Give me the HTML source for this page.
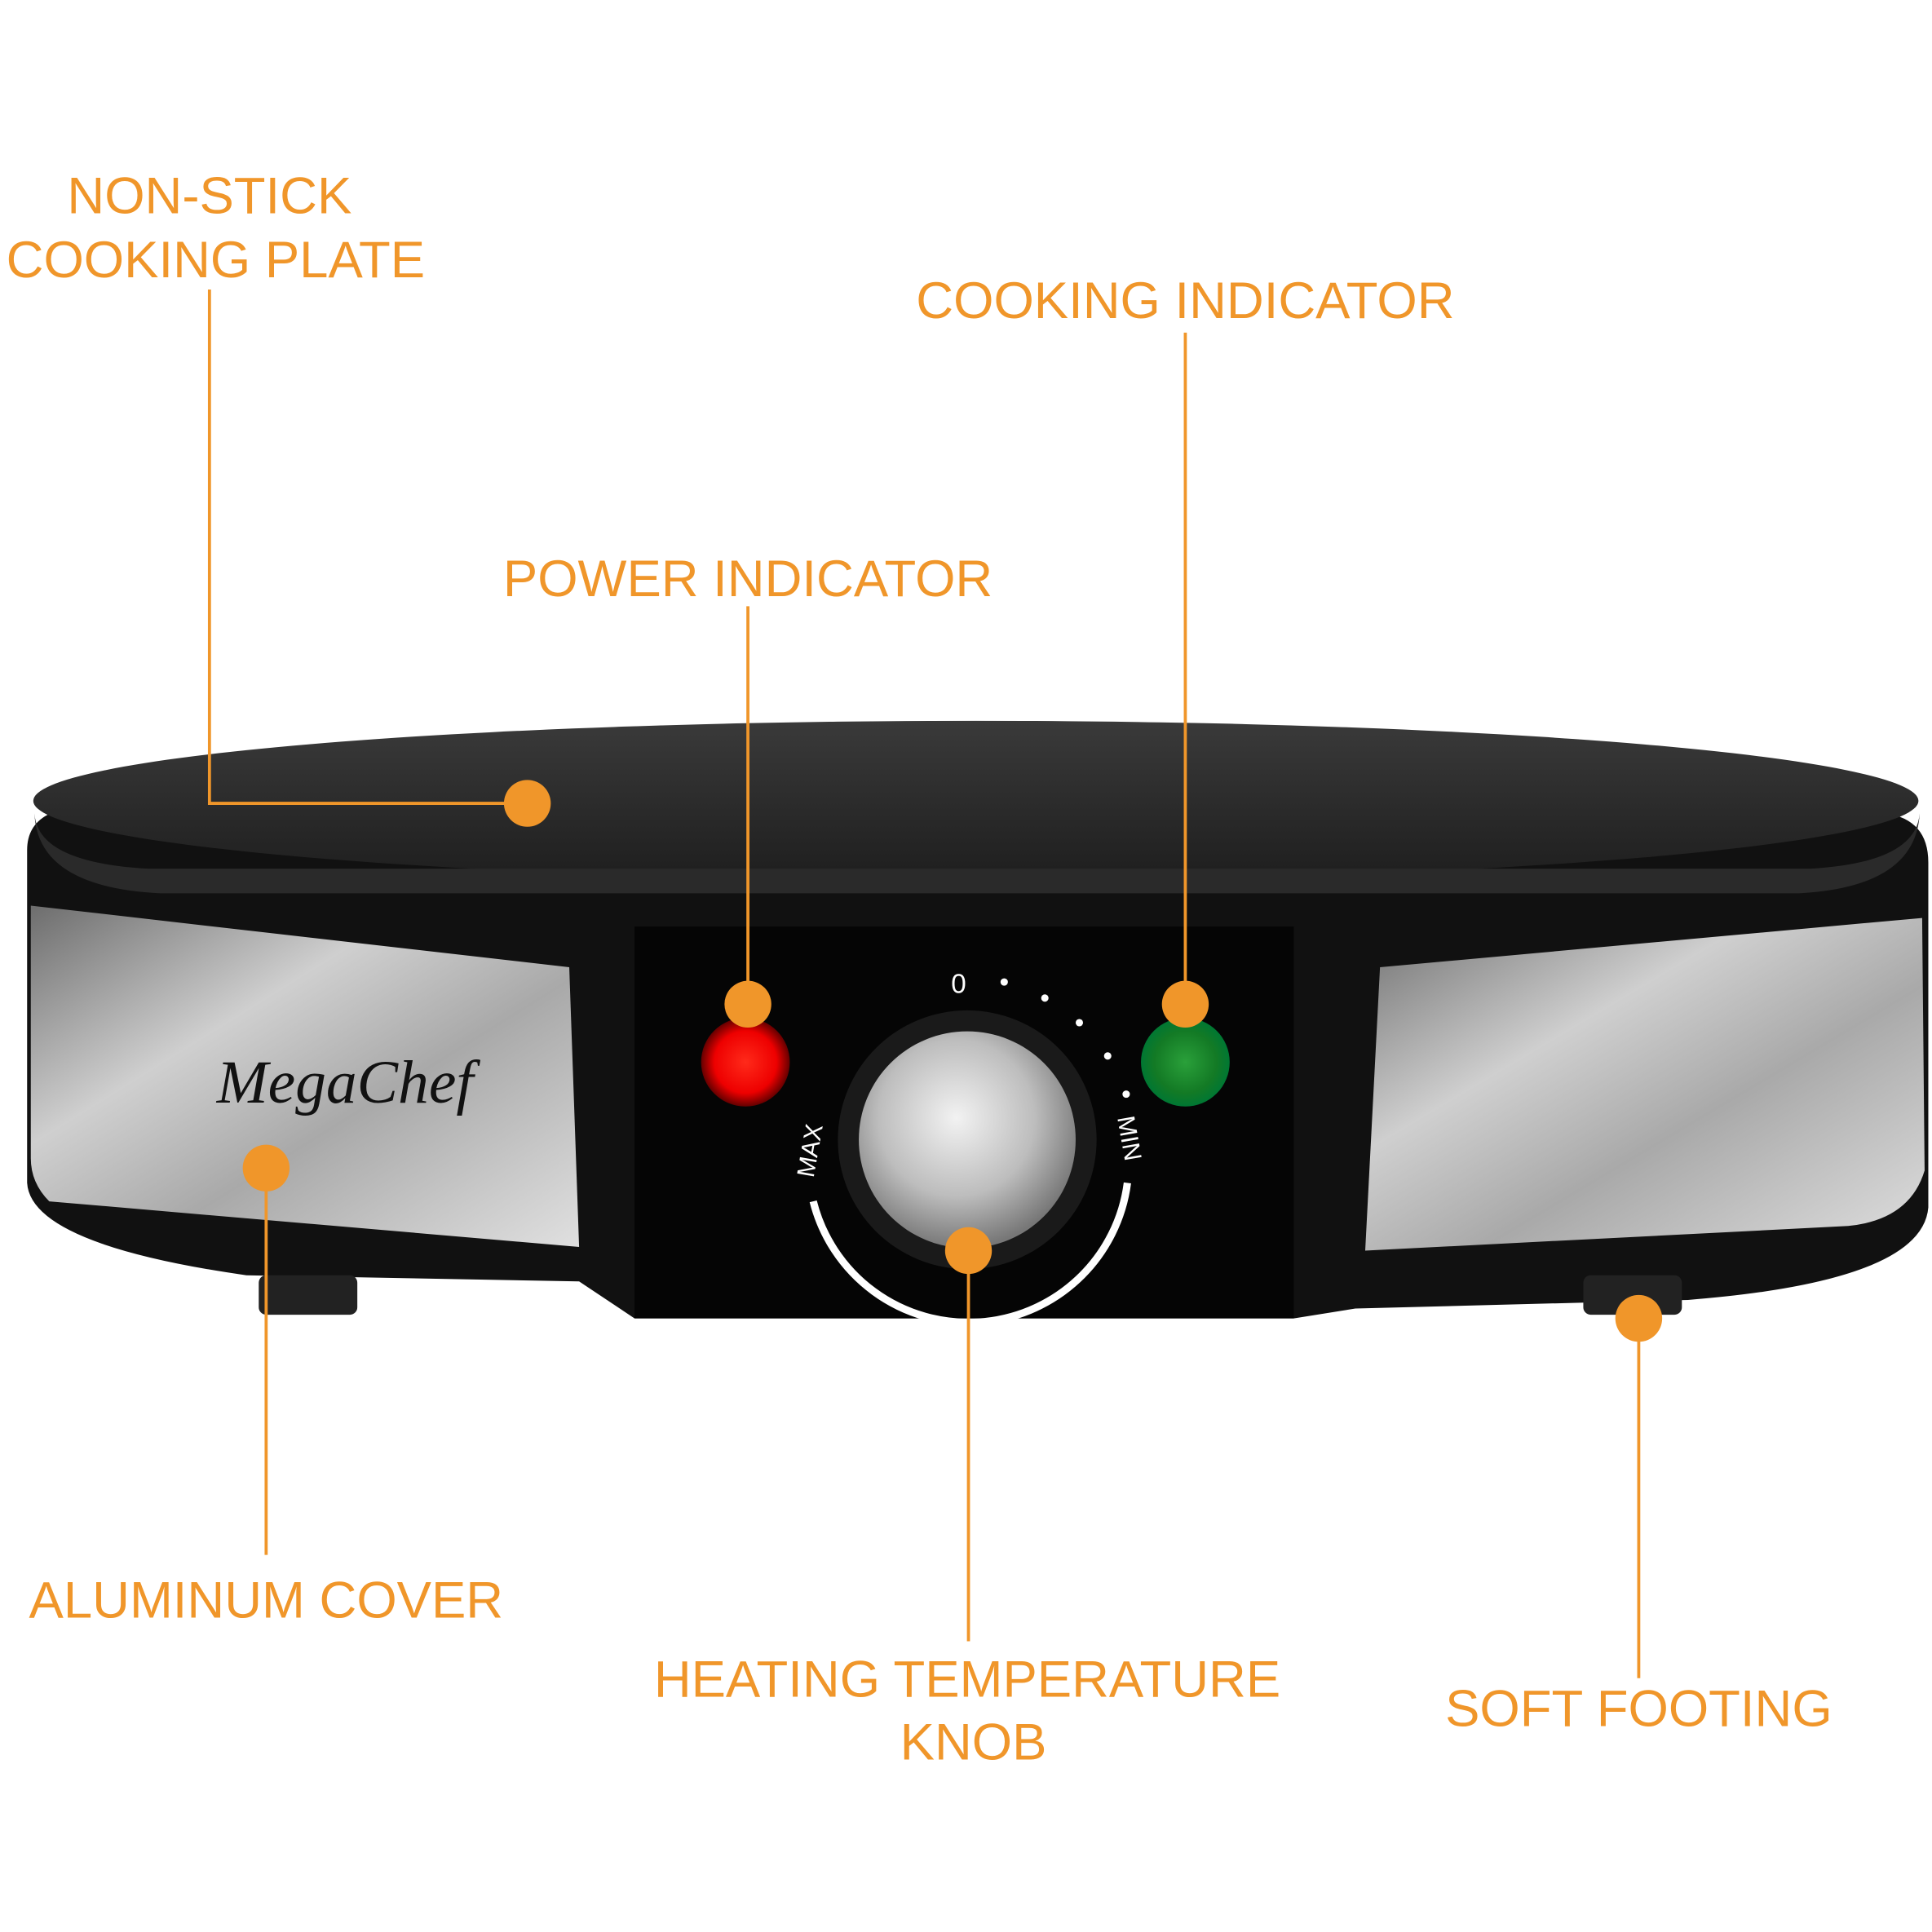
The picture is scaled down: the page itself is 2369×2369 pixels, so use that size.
<!DOCTYPE html>
<html><head><meta charset="utf-8"><style>
html,body{margin:0;padding:0;background:#fff}
svg{display:block}
text{font-family:"Liberation Sans",sans-serif;fill:#f0962a;text-anchor:middle}
</style></head><body>
<svg width="2369" height="2369" viewBox="0 0 1568 1568" xmlns="http://www.w3.org/2000/svg">
<defs>
<linearGradient id="steel" x1="0" y1="0" x2="1" y2="1">
<stop offset="0" stop-color="#6d6d6d"/><stop offset="0.35" stop-color="#cfcfcf"/><stop offset="0.6" stop-color="#a9a9a9"/><stop offset="1" stop-color="#e0e0e0"/></linearGradient>
<linearGradient id="plate" x1="0" y1="0" x2="0" y2="1">
<stop offset="0" stop-color="#3a3a3a"/><stop offset="1" stop-color="#1e1e1e"/></linearGradient>
<radialGradient id="knob" cx="0.45" cy="0.4" r="0.6">
<stop offset="0" stop-color="#f2f2f2"/><stop offset="0.6" stop-color="#bdbdbd"/><stop offset="1" stop-color="#777"/></radialGradient>
<radialGradient id="red"><stop offset="0" stop-color="#ff2a1a"/><stop offset="0.7" stop-color="#e00"/><stop offset="1" stop-color="#600"/></radialGradient>
<radialGradient id="green"><stop offset="0" stop-color="#2aa03a"/><stop offset="0.7" stop-color="#137a25"/><stop offset="1" stop-color="#073"/></radialGradient>
</defs>
<!-- body -->
<path d="M22 690 Q22 660 60 655 L1530 660 Q1565 665 1565 700 L1565 980 Q1560 1040 1370 1055 L1100 1062 L1050 1070 L515 1070 L470 1040 L200 1035 Q25 1010 22 960 Z" fill="#111"/>
<!-- top plate -->
<ellipse cx="792" cy="650" rx="765" ry="65" fill="url(#plate)"/>
<path d="M28 660 Q30 700 120 705 L1470 705 Q1555 700 1558 660 Q1555 720 1460 725 L130 725 Q30 720 28 660Z" fill="#2a2a2a"/>
<!-- steel panels -->
<path d="M25 735 L462 785 L470 1012 L40 975 Q25 960 25 940 Z" fill="url(#steel)"/>
<path d="M1120 785 L1560 745 L1562 950 Q1550 990 1500 995 L1108 1015 Z" fill="url(#steel)"/>
<text x="280" y="895" style="font-family:'Liberation Serif',serif;font-style:italic;fill:#111;font-size:50px">MegaChef</text>
<!-- feet -->
<rect x="210" y="1035" width="80" height="32" rx="6" fill="#222"/>
<rect x="1285" y="1035" width="80" height="32" rx="6" fill="#222"/>
<!-- center panel -->
<rect x="515" y="752" width="535" height="318" fill="#050505"/>
<path d="M660 975 A130 130 0 0 0 915 960" fill="none" stroke="#fff" stroke-width="6"/>
<circle cx="785" cy="925" r="105" fill="#1a1a1a"/>
<circle cx="785" cy="925" r="88" fill="url(#knob)"/>
<text x="778" y="806" style="fill:#fff;font-size:22px">0</text>
<circle cx="815" cy="797" r="3" fill="#fff"/><circle cx="848" cy="810" r="3" fill="#fff"/><circle cx="876" cy="830" r="3" fill="#fff"/><circle cx="899" cy="857" r="3" fill="#fff"/><circle cx="914" cy="888" r="3" fill="#fff"/>
<text x="0" y="0" transform="translate(664,935) rotate(-80)" style="fill:#fff;font-size:20px">MAX</text>
<text x="0" y="0" transform="translate(910,925) rotate(80)" style="fill:#fff;font-size:20px">MIN</text>
<circle cx="605" cy="862" r="36" fill="url(#red)"/>
<circle cx="962" cy="862" r="36" fill="url(#green)"/>
<!-- callouts -->
<g stroke="#f0962a" stroke-width="2.5" fill="none">
<polyline points="170,235 170,652 428,652"/>
<line x1="607" y1="492" x2="607" y2="815"/>
<line x1="962" y1="270" x2="962" y2="815"/>
<line x1="216" y1="948" x2="216" y2="1262"/>
<line x1="786" y1="1015" x2="786" y2="1332"/>
<line x1="1330" y1="1070" x2="1330" y2="1362"/>
</g>
<g fill="#f0962a">
<circle cx="428" cy="652" r="19"/><circle cx="607" cy="815" r="19"/><circle cx="962" cy="815" r="19"/>
<circle cx="216" cy="948" r="19"/><circle cx="786" cy="1015" r="19"/><circle cx="1330" cy="1070" r="19"/>
</g>
<g style="font-size:42px">
<text x="170" y="173">NON-STICK</text>
<text x="175" y="225">COOKING PLATE</text>
<text x="962" y="258">COOKING INDICATOR</text>
<text x="607" y="484">POWER INDICATOR</text>
<text x="216" y="1313">ALUMINUM COVER</text>
<text x="785" y="1377">HEATING TEMPERATURE</text>
<text x="790" y="1428">KNOB</text>
<text x="1330" y="1401">SOFT FOOTING</text>
</g>
</svg>
</body></html>
